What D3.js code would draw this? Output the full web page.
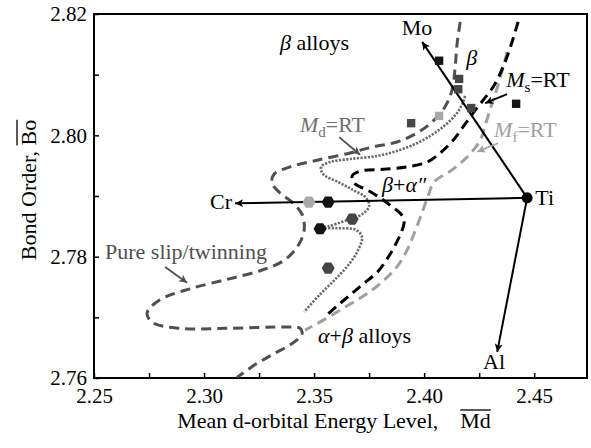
<!DOCTYPE html>
<html>
<head>
<meta charset="utf-8">
<script src="https://cdn.jsdelivr.net/npm/d3@7"></script>
<style>
  body { margin: 0; background: #fff; }
  text { font-family: 'Liberation Serif', 'Times New Roman', serif; }
</style>
</head>
<body>
<script>
// --- data (Md, Bo)
const xTicks = [2.25, 2.275, 2.30, 2.325, 2.35, 2.375, 2.40, 2.425, 2.45];
const xTickLabels = ['2.25', '', '2.30', '', '2.35', '', '2.40', '', '2.45'];
const yTicks = [2.76, 2.77, 2.78, 2.79, 2.80, 2.81, 2.82];
const yTickLabels = ['2.76', '', '2.78', '', '2.80', '', '2.82'];

// pure slip / twinning boundary (also the beta boundary at the top)
const slipCurve = [[2.4164,2.8187],[2.4150,2.8152],[2.4141,2.8113],[2.4127,2.8075],[2.4095,2.8047],
  [2.4036,2.8022],[2.3968,2.8004],[2.3877,2.7989],[2.3768,2.7981],[2.3664,2.7971],[2.3514,2.7959],
  [2.3391,2.7948],[2.3318,2.7936],[2.3309,2.7921],[2.3345,2.7905],[2.3400,2.7890],[2.3445,2.7870],
  [2.3455,2.7844],[2.3427,2.7818],[2.3364,2.7794],[2.3264,2.7778],[2.3109,2.7763],[2.2936,2.7747],
  [2.2800,2.7729],[2.2741,2.7707],[2.2768,2.7691],[2.2891,2.7682],[2.3118,2.7682],[2.3359,2.7684],
  [2.3436,2.7682],[2.3445,2.7672],[2.3405,2.7658],[2.3318,2.7640],[2.3236,2.7623],[2.3150,2.7601]];
// Md = RT
const mdCurve = [[2.4186,2.8065],[2.4177,2.8055],[2.4150,2.8037],[2.4086,2.8014],[2.3995,2.7992],
  [2.3891,2.7976],[2.3786,2.7966],[2.3664,2.7961],[2.3573,2.7956],[2.3532,2.7948],[2.3541,2.7936],
  [2.3609,2.7923],[2.3677,2.7910],[2.3736,2.7897],[2.3750,2.7883],[2.3718,2.7870],[2.3641,2.7859],
  [2.3564,2.7850],[2.3527,2.7847],[2.3595,2.7847],[2.3691,2.7844],[2.3718,2.7832],[2.3700,2.7811],
  [2.3664,2.7790],[2.3605,2.7766],[2.3527,2.7738],[2.3455,2.7709]];
// Ms = RT
const msCurve = [[2.4427,2.8187],[2.4395,2.8149],[2.4359,2.8113],[2.4314,2.8080],[2.4268,2.8058],
  [2.4223,2.8037],[2.4177,2.8014],[2.4132,2.7992],[2.4073,2.7971],[2.4014,2.7956],[2.3923,2.7948],
  [2.3814,2.7944],[2.3709,2.7941],[2.3673,2.7933],[2.3686,2.7920],[2.3741,2.7910],[2.3800,2.7897],
  [2.3855,2.7882],[2.3895,2.7870],[2.3909,2.7857],[2.3891,2.7836],[2.3845,2.7804],[2.3791,2.7776],
  [2.3723,2.7755],[2.3664,2.7737],[2.3605,2.7719],[2.3545,2.7700]];
// Mf = RT
const mfCurve = [[2.4377,2.8137],[2.4336,2.8083],[2.4309,2.8053],[2.4282,2.8022],[2.4255,2.7992],
  [2.4200,2.7966],[2.4127,2.7943],[2.4045,2.7923],[2.4018,2.7900],[2.3995,2.7877],[2.3964,2.7847],
  [2.3927,2.7814],[2.3882,2.7786],[2.3814,2.7760],[2.3736,2.7738],[2.3641,2.7717],[2.3550,2.7697],
  [2.3459,2.7679]];

// alloy points: [Md, Bo, group]
const squarePoints = [[2.4068,2.8123,'A'],[2.4159,2.8093,'B'],[2.4155,2.8076,'B'],[2.4214,2.8045,'B'],
  [2.4068,2.8032,'C'],[2.3941,2.8020,'B'],[2.4418,2.8052,'A']];
const hexPoints = [[2.3477,2.7890,'C'],[2.3564,2.7890,'A'],[2.3673,2.7862,'B'],[2.3527,2.7846,'A'],
  [2.3564,2.7781,'B']];

// element vectors from Ti
const tiPoint = [2.4468, 2.7897];
const vectorEnds = [[2.3991, 2.8154], [2.3141, 2.7888], [2.4332, 2.7643]];
const elementLabels = ['Mo', 'Cr', 'Al'];
const elementLabelPos = [[2.3968, 2.8165], [2.3127, 2.7879], [2.4318, 2.7615]];

// pointer arrows from labels to curves (data units)
const pointerFrom = [[2.3614, 2.7997], [2.4377, 2.8068], [2.4336, 2.7987], [2.2823, 2.7783]];
const pointerTo = [[2.3709, 2.7968], [2.4277, 2.8053], [2.4241, 2.7973], [2.2923, 2.7757]];

const width = 591, height = 448;
const x = d3.scaleLinear().domain([2.25, 2.474]).range([94, 587]);
const y = d3.scaleLinear().domain([2.76, 2.82]).range([378, 14]);

const svg = d3.select('body').append('svg')
  .attr('width', width).attr('height', height);

const defs = svg.append('defs');
function arrowMarker(id, color, w, h) {
  defs.append('marker')
    .attr('id', id)
    .attr('viewBox', '0 -5 10 10')
    .attr('refX', 10).attr('refY', 0)
    .attr('markerUnits', 'userSpaceOnUse')
    .attr('markerWidth', w).attr('markerHeight', h)
    .attr('orient', 'auto')
    .append('path')
    .attr('d', 'M0,-5L10,0L0,5L2.5,0Z')
    .attr('fill', color);
  return `url(#${id})`;
}
const headBlack = arrowMarker('hk', '#000', 11, 8);
const headDark = arrowMarker('hd', '#505050', 11, 8);
const headLight = arrowMarker('hl', '#a0a0a0', 11, 8);

// --- axes
const gx = svg.append('g')
  .attr('transform', `translate(0,${y.range()[0]})`)
  .call(d3.axisBottom(x).tickValues(xTicks).tickSizeInner(-5).tickSizeOuter(0)
    .tickPadding(10).tickFormat((d, i) => xTickLabels[i]));
const gy = svg.append('g')
  .attr('transform', `translate(${x.range()[0]},0)`)
  .call(d3.axisLeft(y).tickValues(yTicks).tickSizeInner(-5).tickSizeOuter(0)
    .tickPadding(7).tickFormat((d, i) => yTickLabels[i]));
[gx, gy].forEach(g => {
  g.select('.domain').remove();
  g.selectAll('.tick line').attr('stroke', '#000').attr('stroke-width', 1.5);
  g.selectAll('.tick text').attr('fill', '#000')
    .style('font-family', "'Liberation Serif','Times New Roman',serif")
    .style('font-size', '21px');
});

svg.append('rect')
  .attr('x', x.range()[0]).attr('y', y.range()[1])
  .attr('width', x.range()[1] - x.range()[0])
  .attr('height', y.range()[0] - y.range()[1])
  .attr('fill', 'none').attr('stroke', '#000').attr('stroke-width', 2);

// axis titles with overlined symbols
function overline(textSel, from, to, off) {
  const node = textSel.node();
  const x0 = node.getStartPositionOfChar(from).x;
  const x1 = node.getEndPositionOfChar(to).x;
  const by = node.getStartPositionOfChar(from).y;
  d3.select(node.parentNode).append('line')
    .attr('x1', x0).attr('x2', x1).attr('y1', by - off).attr('y2', by - off)
    .attr('stroke', '#000').attr('stroke-width', 1.3);
}
const xtg = svg.append('g');
const xt = xtg.append('text')
  .attr('x', 334).attr('y', 428)
  .attr('text-anchor', 'middle').attr('font-size', 22)
  .text('Mean d-orbital Energy Level,\u2003Md');
const xs = xt.text().length;
overline(xt, xs - 2, xs - 1, 18);

const ytg = svg.append('g').attr('transform', 'translate(36,190) rotate(-90)');
const yt = ytg.append('text')
  .attr('x', 0).attr('y', 0)
  .attr('text-anchor', 'middle').attr('font-size', 22)
  .text('Bond Order, Bo');
const ys = yt.text().length;
overline(yt, ys - 2, ys - 1, 19);

// --- curves
const line = d3.line().x(d => x(d[0])).y(d => y(d[1])).curve(d3.curveCatmullRom.alpha(0.5));
const plot = svg.append('g');
plot.append('path').datum(mfCurve).attr('d', line)
  .attr('fill', 'none').attr('stroke', '#a0a0a0').attr('stroke-width', 3).attr('stroke-dasharray', '10,6');
plot.append('path').datum(slipCurve).attr('d', line)
  .attr('fill', 'none').attr('stroke', '#505050').attr('stroke-width', 3).attr('stroke-dasharray', '10,6');
plot.append('path').datum(mdCurve).attr('d', line)
  .attr('fill', 'none').attr('stroke', '#6a6a6a').attr('stroke-width', 2.6).attr('stroke-dasharray', '2.2,1.4');
plot.append('path').datum(msCurve).attr('d', line)
  .attr('fill', 'none').attr('stroke', '#000').attr('stroke-width', 3).attr('stroke-dasharray', '10,6');

// --- element vectors
plot.selectAll('line.vec')
  .data(vectorEnds)
  .join('line')
  .attr('class', 'vec')
  .attr('x1', x(tiPoint[0])).attr('y1', y(tiPoint[1]))
  .attr('x2', d => x(d[0])).attr('y2', d => y(d[1]))
  .attr('stroke', '#000').attr('stroke-width', 2)
  .attr('marker-end', headBlack);

// --- pointer arrows
const pointerHeads = [headDark, headBlack, headLight, headDark];
const pointerColors = ['#505050', '#000', '#a0a0a0', '#505050'];
plot.selectAll('line.ptr')
  .data(pointerFrom)
  .join('line')
  .attr('class', 'ptr')
  .attr('x1', d => x(d[0])).attr('y1', d => y(d[1]))
  .attr('x2', (d, i) => x(pointerTo[i][0])).attr('y2', (d, i) => y(pointerTo[i][1]))
  .attr('stroke', (d, i) => pointerColors[i]).attr('stroke-width', 1.8)
  .attr('marker-end', (d, i) => pointerHeads[i]);

// --- points
const tone = d3.scaleOrdinal().domain(['A', 'B', 'C']).range(['#151515', '#454545', '#a8a8a8']);
plot.selectAll('path.sq')
  .data(squarePoints)
  .join('path')
  .attr('class', 'sq')
  .attr('transform', d => `translate(${x(d[0])},${y(d[1])})`)
  .attr('d', d3.symbol(d3.symbolSquare, 70))
  .attr('fill', d => tone(d[2]));
const hex = d3.range(6).map(k => [5.6 * Math.cos(k * Math.PI / 3), 5.6 * Math.sin(k * Math.PI / 3)]);
plot.selectAll('path.hx')
  .data(hexPoints)
  .join('path')
  .attr('class', 'hx')
  .attr('transform', d => `translate(${x(d[0])},${y(d[1])})`)
  .attr('d', 'M' + hex.join('L') + 'Z')
  .attr('fill', d => tone(d[2]))
  .attr('stroke', d => tone(d[2])).attr('stroke-width', 1.5).attr('stroke-linejoin', 'round');
plot.append('circle')
  .attr('cx', x(tiPoint[0])).attr('cy', y(tiPoint[1])).attr('r', 5.5)
  .attr('fill', '#000');

// --- labels
const labels = svg.append('g').attr('font-size', 22);
elementLabels.forEach((t, i) => {
  labels.append('text')
    .attr('x', x(elementLabelPos[i][0])).attr('y', y(elementLabelPos[i][1]))
    .attr('text-anchor', i === 1 ? 'end' : 'middle')
    .text(t);
});
labels.append('text').attr('x', x(2.4505)).attr('y', y(2.7885)).text('Ti');

function richLabel(pos, parts, color) {
  const t = labels.append('text')
    .attr('x', x(pos[0])).attr('y', y(pos[1]))
    .attr('fill', color);
  parts.forEach(p => {
    const s = t.append('tspan').text(p.t);
    if (p.i) s.attr('font-style', 'italic');
    if (p.sub) s.attr('font-size', 15).attr('dy', 5);
    if (p.up) s.attr('dy', -5);
  });
  return t;
}
richLabel([2.3345, 2.8141], [{t: '\u03b2', i: 1}, {t: ' alloys'}], '#000');
richLabel([2.4191, 2.8116], [{t: '\u03b2', i: 1}], '#000');
richLabel([2.4373, 2.8080], [{t: 'M', i: 1}, {t: 's', sub: 1}, {t: '=RT', up: 1}], '#000');
richLabel([2.4318, 2.7997], [{t: 'M', i: 1}, {t: 'f', sub: 1}, {t: '=RT', up: 1}], '#a0a0a0');
richLabel([2.3436, 2.8005], [{t: 'M', i: 1}, {t: 'd', sub: 1}, {t: '=RT', up: 1}], '#707070');
richLabel([2.3809, 2.7907], [{t: '\u03b2', i: 1}, {t: '+'}, {t: '\u03b1\u2033', i: 1}], '#000');
richLabel([2.3518, 2.7658], [{t: '\u03b1', i: 1}, {t: '+'}, {t: '\u03b2', i: 1}, {t: ' alloys'}], '#000');
richLabel([2.2550, 2.7796], [{t: 'Pure slip/twinning'}], '#505050');
</script>
</body>
</html>
